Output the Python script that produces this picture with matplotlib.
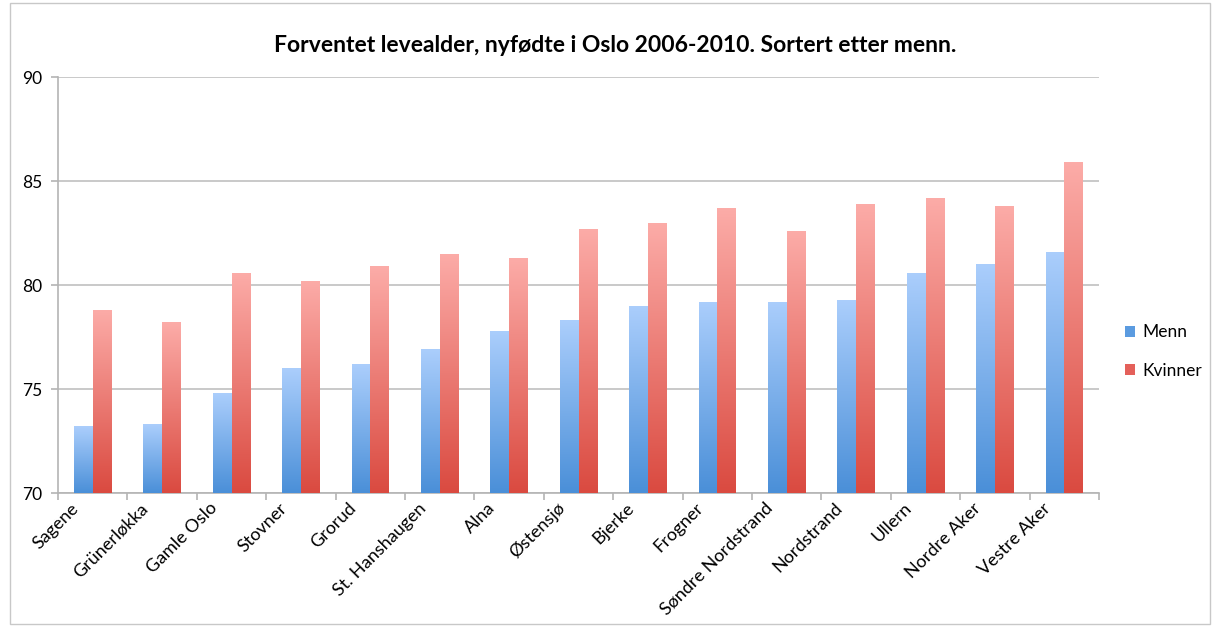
import numpy as np
import matplotlib.pyplot as plt
import matplotlib.transforms as mtransforms
from matplotlib.colors import LinearSegmentedColormap
from matplotlib.patches import Rectangle

plt.rcParams['font.family'] = ['Lato', 'DejaVu Sans']

bydeler = ['Sagene', 'Grünerløkka', 'Gamle Oslo', 'Stovner', 'Grorud', 'St. Hanshaugen',
           'Alna', 'Østensjø', 'Bjerke', 'Frogner', 'Søndre Nordstrand', 'Nordstrand',
           'Ullern', 'Nordre Aker', 'Vestre Aker']
menn = [73.2, 73.3, 74.8, 76.0, 76.2, 76.9, 77.8, 78.3, 79.0, 79.2, 79.2, 79.3, 80.6, 81.0, 81.6]
kvinner = [78.8, 78.2, 80.6, 80.2, 80.9, 81.5, 81.3, 82.7, 83.0, 83.7, 82.6, 83.9, 84.2, 83.8, 85.9]

fig = plt.figure(figsize=(12.15, 6.27), dpi=100)
ax = fig.add_axes([58 / 1215, 1 - 493 / 627, (1099 - 58) / 1215, (493 - 77) / 627])

# border round the chart area
fig.patches.append(Rectangle((10 / 1215, 0.005), 1200 / 1215, 0.99, transform=fig.transFigure,
                             fill=False, edgecolor='#c8c8c8', linewidth=1))

x = np.arange(len(bydeler))
w = 0.27
ymin, ymax = 70, 90

blue_cmap = LinearSegmentedColormap.from_list('b', ['#4a8fd8', '#abcefc'])
red_cmap = LinearSegmentedColormap.from_list('r', ['#da4a40', '#fcaca8'])


def gradient_bars(xs, vals, cmap, label, color):
    bars = ax.bar(xs, [v - ymin for v in vals], width=w, bottom=ymin, color=color,
                  label=label, zorder=2, edgecolor='none')
    grad = np.linspace(0, 1, 256).reshape(-1, 1)
    for b in bars:
        x0 = b.get_x()
        img = ax.imshow(grad, cmap=cmap, origin='lower', aspect='auto',
                        extent=[x0, x0 + b.get_width(), ymin, ymin + b.get_height()], zorder=3)
        img.set_clip_path(b)
    return bars


gradient_bars(x - w / 2, menn, blue_cmap, 'Menn', '#5b9be0')
gradient_bars(x + w / 2, kvinner, red_cmap, 'Kvinner', '#e4605a')

ax.set_xlim(-0.5, len(bydeler) - 0.5)
ax.set_ylim(ymin, ymax)
ax.set_yticks([70, 75, 80, 85, 90])
ax.yaxis.grid(True, color='#c0c0c0', linewidth=1.2, zorder=0)
ax.set_axisbelow(True)

for s in ['top', 'right']:
    ax.spines[s].set_visible(False)
ax.spines['left'].set_color('#b4b4b4')
ax.spines['bottom'].set_color('#b4b4b4')
ax.spines['left'].set_linewidth(1.2)
ax.spines['bottom'].set_linewidth(1.2)

# separators between categories as major ticks, names on minor ticks
ax.set_xticks(np.arange(len(bydeler) + 1) - 0.5, minor=False)
ax.set_xticklabels([])
ax.set_xticks(x, minor=True)
ax.set_xticklabels(bydeler, minor=True, rotation=45, ha='right', rotation_mode='anchor',
                   fontsize=13)
ax.tick_params(axis='x', which='major', length=5, color='#b4b4b4', width=1.2)
ax.tick_params(axis='x', which='minor', length=0, pad=5)
ax.tick_params(axis='y', length=5, color='#b4b4b4', width=1.2, labelsize=12.5, pad=6)

fig.text(615 / 1215, 1 - 45 / 627,
         'Forventet levealder, nyfødte i Oslo 2006-2010. Sortert etter menn.',
         fontsize=16.5, fontweight='bold', ha='center', va='center')

ax.legend(loc='center left', bbox_to_anchor=(1.01, 0.34), frameon=False, fontsize=12.5,
          handlelength=0.6, handleheight=0.6, labelspacing=1.3, handletextpad=0.4)

fig.canvas.draw()
shift = mtransforms.ScaledTranslation(-22 / 100, 0, fig.dpi_scale_trans)
for lbl in ax.xaxis.get_minorticklabels():
    lbl.set_transform(lbl.get_transform() + shift)

fig.savefig('out.png', dpi=100)
